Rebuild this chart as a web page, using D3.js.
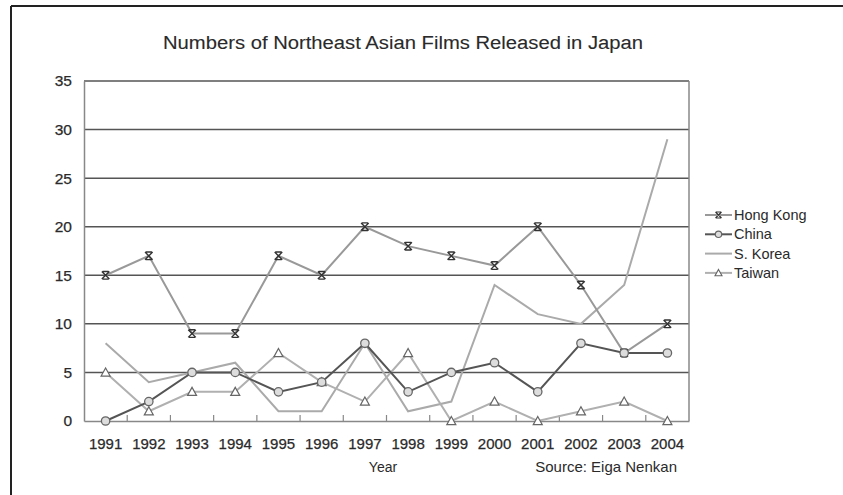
<!DOCTYPE html>
<html><head><meta charset="utf-8">
<script src="https://cdn.jsdelivr.net/npm/d3@7"></script>
<style>
body{margin:0;background:#fff;}
text{font-family:"Liberation Sans",Arial,sans-serif;fill:#2a2a2a;}
</style></head>
<body><svg id="c" width="843" height="495"></svg>
<script>
const years = ["1991","1992","1993","1994","1995","1996","1997","1998","1999","2000","2001","2002","2003","2004"];
const hongKong = [15,17,9,9,17,15,20,18,17,16,20,14,7,10];
const china    = [0,2,5,5,3,4,8,3,5,6,3,8,7,7];
const sKorea   = [8,4,5,6,1,1,8,1,2,14,11,10,14,29];
const taiwan   = [5,1,3,3,7,4,2,7,0,2,0,1,2,0];
const yTicks = [0,5,10,15,20,25,30,35];
const seriesNames = ["Hong Kong","China","S. Korea","Taiwan"];

const svg = d3.select("#c");
const L=84, R=689, T=81, B=421;
const x = d3.scaleBand().domain(years).range([L,R]);
const y = d3.scaleLinear().domain([0,35]).range([B,T]);
const cx = d => x(d)+x.bandwidth()/2;

// frame
svg.append("line").attr("x1",11).attr("x2",843).attr("y1",6).attr("y2",6).attr("stroke","#222").attr("stroke-width",2);
svg.append("line").attr("x1",11).attr("x2",11).attr("y1",6).attr("y2",495).attr("stroke","#222").attr("stroke-width",2);

// title
svg.append("text").attr("x",403).attr("y",49).attr("text-anchor","middle").attr("font-size",18).attr("textLength",480).attr("lengthAdjust","spacingAndGlyphs")
  .attr("stroke","#2a2a2a").attr("stroke-width",0.1)
  .text("Numbers of Northeast Asian Films Released in Japan");

// gridlines
svg.append("g").selectAll("line").data(yTicks.filter(v=>v>0)).join("line")
  .attr("x1",L).attr("x2",R).attr("y1",d=>y(d)).attr("y2",d=>y(d)).attr("stroke","#555").attr("stroke-width",1.5);
// right border
svg.append("line").attr("x1",R).attr("x2",R).attr("y1",T).attr("y2",B).attr("stroke","#888").attr("stroke-width",1.5);

// y axis
const ya = svg.append("g").attr("transform",`translate(${L},0)`).call(d3.axisLeft(y).tickValues(yTicks).tickSize(0).tickPadding(12));
ya.select(".domain").attr("stroke","#888").attr("stroke-width",1.5);
ya.selectAll("text").attr("font-size",15.5).attr("font-family","Liberation Sans, Arial, sans-serif").attr("fill","#2a2a2a").attr("stroke","#2a2a2a").attr("stroke-width",0.25);

// x axis
const xa = svg.append("g").attr("transform",`translate(0,${B})`).call(d3.axisBottom(x).tickSize(0).tickPadding(17));
xa.select(".domain").attr("stroke","#888").attr("stroke-width",1.5);
xa.selectAll("text").attr("font-size",15).attr("font-family","Liberation Sans, Arial, sans-serif").attr("fill","#2a2a2a").attr("stroke","#2a2a2a").attr("stroke-width",0.25);
// inward ticks at band boundaries
svg.append("g").selectAll("line").data(years.slice(1)).join("line")
  .attr("x1",d=>x(d)).attr("x2",d=>x(d)).attr("y1",B).attr("y2",B-6).attr("stroke","#888").attr("stroke-width",1.2);

svg.append("text").attr("x",383).attr("y",472).attr("text-anchor","middle").attr("font-size",14).text("Year");
svg.append("text").attr("x",677).attr("y",472).attr("text-anchor","end").attr("font-size",15).text("Source: Eiga Nenkan");

const line = d3.line().x((d,i)=>cx(years[i])).y(d=>y(d));

// S. Korea
svg.append("path").datum(sKorea).attr("d",line).attr("fill","none").attr("stroke","#aaa").attr("stroke-width",2);
// Taiwan
svg.append("path").datum(taiwan).attr("d",line).attr("fill","none").attr("stroke","#b0b0b0").attr("stroke-width",2);
// Hong Kong
svg.append("path").datum(hongKong).attr("d",line).attr("fill","none").attr("stroke","#999").attr("stroke-width",2);
// China
svg.append("path").datum(china).attr("d",line).attr("fill","none").attr("stroke","#555").attr("stroke-width",2);

function triPath(px,py,s){return `M${px},${py-s}L${px+s},${py+s*0.8}L${px-s},${py+s*0.8}Z`;}
function starPath(px,py,s){return `M${px-s},${py-s}L${px+s},${py+s}M${px+s},${py-s}L${px-s},${py+s}M${px-s*0.8},${py-s}L${px+s*0.8},${py-s}M${px-s*0.8},${py+s}L${px+s*0.8},${py+s}`;}

svg.append("g").selectAll("path").data(taiwan).join("path")
  .attr("d",(d,i)=>triPath(cx(years[i]),y(d),4.5)).attr("fill","#fff").attr("stroke","#666").attr("stroke-width",1.2);
svg.append("g").selectAll("path").data(hongKong).join("path")
  .attr("d",(d,i)=>starPath(cx(years[i]),y(d),3.8)).attr("fill","none").attr("stroke","#333").attr("stroke-width",1.4);
svg.append("g").selectAll("circle").data(china).join("circle")
  .attr("cx",(d,i)=>cx(years[i])).attr("cy",d=>y(d)).attr("r",4.2).attr("fill","#ddd").attr("stroke","#666").attr("stroke-width",1.3);

// legend
const lg = svg.append("g");
const ly = i => 215 + i*19.3;
const styles = [
  {stroke:"#999", mk:"star"},{stroke:"#555", mk:"circle"},{stroke:"#aaa", mk:null},{stroke:"#b0b0b0", mk:"tri"}];
seriesNames.forEach((n,i)=>{
  const yy = ly(i), st = styles[i];
  lg.append("line").attr("x1",705).attr("x2",732).attr("y1",yy).attr("y2",yy).attr("stroke",st.stroke).attr("stroke-width",2);
  if(st.mk==="star") lg.append("path").attr("d",starPath(718.5,yy,3)).attr("fill","none").attr("stroke","#333").attr("stroke-width",1.2);
  if(st.mk==="circle") lg.append("circle").attr("cx",718.5).attr("cy",yy).attr("r",3.2).attr("fill","#ddd").attr("stroke","#666").attr("stroke-width",1.2);
  if(st.mk==="tri") lg.append("path").attr("d",triPath(718.5,yy,3.5)).attr("fill","#fff").attr("stroke","#666").attr("stroke-width",1.1);
  lg.append("text").attr("x",734).attr("y",yy+5).attr("font-size",14.5).text(n);
});
</script></body></html>
